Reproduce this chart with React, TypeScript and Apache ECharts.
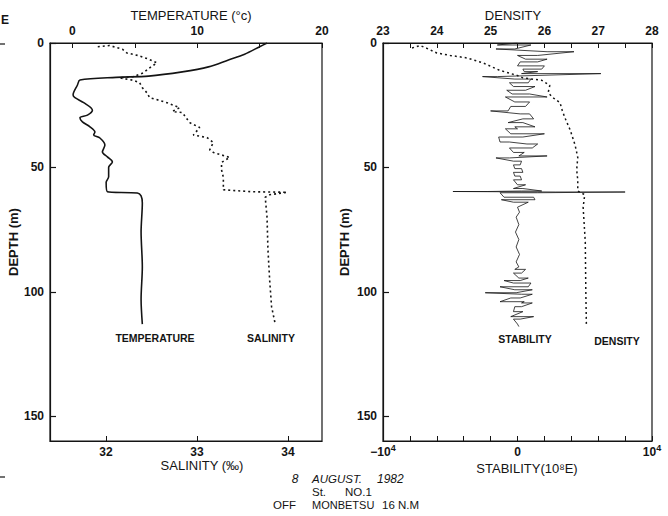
import React, { useEffect, useRef } from "react";
import * as echarts from "echarts";

// ---- Left panel: temperature (°C) and salinity (‰) vs depth (m)
const tempDepth = [0, 1.5, 4.5, 6.8, 9.6, 11.6, 13.3, 13.8, 14.9, 16.9, 20.9, 22, 24, 27, 29, 30, 31.7, 33.7, 35.8, 37, 38.2, 41, 43.8, 45.8, 47.8, 50, 53.8, 56, 59.8, 60.3, 61.5, 64.3, 76, 90, 103, 113];
const tempC = [15.6, 15.0, 13.8, 12.5, 10.9, 8.8, 6.1, 3.5, 0.6, 0.4, 0.05, 0.2, 0.9, 1.6, 1.2, 0.6, 0.8, 1.4, 1.8, 1.7, 2.2, 2.6, 2.4, 2.8, 3.2, 2.9, 2.9, 2.7, 2.8, 5.2, 5.5, 5.6, 5.5, 5.6, 5.5, 5.6];

const salDepth = [1.5, 1, 2.5, 4, 5, 6.5, 8, 10, 12, 13.5, 14, 15, 16, 18, 20, 22, 23, 24, 26, 27.5, 28, 30, 32, 34, 37, 38, 40, 43, 44, 46, 48, 51, 54, 59, 59.8, 60, 61, 62, 70, 83, 96, 106, 113];
const salinity = [31.91, 32.04, 32.18, 32.23, 32.35, 32.47, 32.56, 32.48, 32.41, 32.3, 32.15, 32.3, 32.37, 32.4, 32.45, 32.48, 32.58, 32.67, 32.81, 32.73, 32.84, 32.88, 32.92, 33.03, 32.96, 33.11, 33.18, 33.14, 33.18, 33.36, 33.27, 33.27, 33.29, 33.29, 33.6, 33.99, 33.8, 33.75, 33.77, 33.78, 33.8, 33.82, 33.86];

// ---- Right panel: density (sigma-t) and stability (10^-8 E) vs depth (m)
const densDepth = [2, 1, 2, 4, 5, 6, 8, 11, 13, 14, 15, 17, 20, 22, 24, 27, 30, 35, 41, 46, 51, 55, 59.5, 61, 66, 80, 100, 113];
const density = [23.54, 23.69, 23.8, 24.0, 24.25, 24.56, 24.86, 25.17, 25.49, 25.6, 25.95, 26.1, 26.07, 26.16, 26.29, 26.33, 26.38, 26.48, 26.57, 26.62, 26.6, 26.62, 26.62, 26.75, 26.72, 26.76, 26.77, 26.78];

// stability trace: consecutive points at one depth are the horizontal dashes of the record
const stabDepth = [0, 0.8, 0.8, 2.4, 2.4, 3.5, 3.5, 5, 5, 6.5, 6.5, 7.6, 7.6, 9.2, 9.2, 10.5, 10.5, 11.5, 11.5, 12.3, 12.3, 13.5, 13.5, 14.5, 14.5, 16, 16, 17.5, 17.5, 19, 19, 20.5, 20.5, 21.7, 21.7, 23.7, 23.7, 25.5, 25.5, 27.3, 27.3, 28.5, 28.5, 30.5, 30.5, 32, 32, 33.7, 33.7, 34.5, 34.5, 36.5, 36.5, 37.8, 37.8, 39.8, 39.8, 40.6, 40.6, 42.2, 42.2, 44, 44, 45.4, 45.4, 46.2, 46.2, 47.5, 47.5, 49, 49, 50.5, 50.5, 52, 52, 53.5, 53.5, 55, 55, 57, 57, 58.5, 58.5, 59.5, 59.5, 59.7, 59.7, 59.9, 59.9, 60.2, 60.2, 62, 62, 63, 63, 64, 64, 66, 68, 70, 73, 76, 79, 82, 85, 88, 90, 91, 91, 92.5, 92.5, 94.5, 94.5, 95.5, 95.5, 96.5, 96.5, 98, 98, 99.2, 99.2, 100.4, 100.4, 101, 101, 102.5, 102.5, 104, 104, 104.5, 104.5, 106, 106, 108, 108, 110, 110, 111, 111, 113, 114];
const stability = [0, -1500, 1000, -200, -1600, 2200, 4200, 1500, 0, 600, 2200, 1500, 200, 0, 2000, 1800, 400, 500, 1500, 300, 6200, -1500, -2600, -200, 1000, 800, -600, -300, 1300, 600, -800, -400, 900, 2200, -900, -200, 900, 600, -500, -700, -2000, 200, 900, 1200, 400, -700, 400, 1300, -200, 0, -900, -500, 2000, 400, -1400, -1300, -600, 700, 1500, 1100, -600, -300, 500, 100, 2200, -600, -1600, -300, 300, 200, -300, -200, 300, 400, -300, -200, 200, 300, -300, 0, 600, -300, 400, 1800, 300, -2200, -4800, 2800, 8000, 1500, -1300, -1000, 1200, 1300, -1200, -300, 800, 0, 150, -100, 100, -150, 100, -100, 150, -100, 100, -200, 600, 300, -300, 100, 800, 200, -1000, -300, 1000, 800, -1300, -200, 1100, -100, -2400, 300, 1100, 200, -500, -1300, 500, 300, 1100, 300, -200, -300, 400, -500, 1200, 200, -300, 0, 100];

// ---- Axis ticks and labels
const tempTicks = [0, 5, 10, 15, 20];
const tempLabels = [0, 10, 20];
const salTicks = [32, 33, 34];
const densTicks = [23, 23.5, 24, 24.5, 25, 25.5, 26, 26.5, 27, 27.5, 28];
const densLabels = [23, 24, 25, 26, 27, 28];
const stabLabels = [-10000, 0, 10000];
const depthTicks = [0, 50, 100, 150];

const zip = (xs: number[], ys: number[]) => xs.map((x, i) => [x, ys[i]]);

const FONT = "Liberation Sans";
const INK = "#141414";

export default function App() {
  const ref = useRef<HTMLDivElement>(null);
  useEffect(() => {
    if (!ref.current) return;
    const chart = echarts.init(ref.current, null, { renderer: "svg" });
    const tickLabel = { color: INK, fontFamily: FONT, fontSize: 12, fontWeight: "bold" as const, lineHeight: 12 };
    const axisLine = { show: true, onZero: false, lineStyle: { color: INK, width: 1.2 } };
    const depthAxis = (gridIndex: number, gap: number) => ({
      type: "value" as const,
      gridIndex,
      inverse: true,
      min: 0,
      max: 160,
      interval: 50,
      axisLine,
      axisTick: { show: true, inside: true, length: 6, lineStyle: { color: INK, width: 1.2 }, customValues: depthTicks },
      axisLabel: { ...tickLabel, margin: 6, customValues: depthTicks },
      splitLine: { show: false },
      name: "DEPTH (m)",
      nameLocation: "middle" as const,
      nameRotate: 90,
      nameGap: gap,
      nameTextStyle: { color: INK, fontFamily: FONT, fontSize: 13, fontWeight: "bold" as const },
    });
    const text = (x: number, y: number, t: string, size = 13, extra: any = {}) => ({
      type: "text",
      x,
      y,
      style: { text: t, fill: INK, font: `${extra.italic ? "italic " : ""}${extra.bold ? "bold " : ""}${size}px "${FONT}"`, textAlign: extra.align || "center", textVerticalAlign: "middle" },
    });
    chart.setOption({
      animation: false,
      backgroundColor: "#ffffff",
      grid: [
        { left: 50, top: 43, width: 272, height: 398, show: true, borderColor: INK, borderWidth: 1.2, backgroundColor: "transparent" },
        { left: 383, top: 43, width: 269, height: 398, show: true, borderColor: INK, borderWidth: 1.2, backgroundColor: "transparent" },
      ],
      xAxis: [
        {
          type: "value", gridIndex: 0, position: "top", min: -1.8, max: 20,
          axisLine,
          axisTick: { show: true, inside: true, length: 5, lineStyle: { color: INK }, customValues: tempTicks },
          axisLabel: { ...tickLabel, margin: 6, customValues: tempLabels },
          splitLine: { show: false },
        },
        {
          type: "value", gridIndex: 0, position: "bottom", min: 31.385, max: 34.374,
          axisLine,
          axisTick: { show: true, inside: true, length: 5, lineStyle: { color: INK }, customValues: salTicks },
          axisLabel: { ...tickLabel, margin: 5, customValues: salTicks },
          splitLine: { show: false },
        },
        {
          type: "value", gridIndex: 1, position: "top", min: 23, max: 28,
          axisLine,
          axisTick: { show: true, inside: true, length: 5, lineStyle: { color: INK }, customValues: densTicks },
          axisLabel: { ...tickLabel, margin: 6, customValues: densLabels },
          splitLine: { show: false },
        },
        {
          type: "value", gridIndex: 1, position: "bottom", min: -10000, max: 10000, interval: 2000,
          axisLine,
          axisTick: { show: true, inside: true, length: 5, lineStyle: { color: INK } },
          axisLabel: {
            ...tickLabel, margin: 5, customValues: stabLabels,
            formatter: (v: number) => (v === 0 ? "0" : v < 0 ? "−10{s|4}" : "10{s|4}"),
            rich: { s: { fontSize: 9, fontWeight: "bold", fontFamily: FONT, color: INK, padding: [0, 0, 8, 0] } },
          },
          splitLine: { show: false },
        },
      ],
      yAxis: [depthAxis(0, 28), depthAxis(1, 32)],
      series: [
        {
          name: "TEMPERATURE", type: "line", xAxisIndex: 0, yAxisIndex: 0,
          data: zip(tempC, tempDepth), showSymbol: false, symbol: "none", smooth: 0.3,
          lineStyle: { color: INK, width: 1.6 },
        },
        {
          name: "SALINITY", type: "line", xAxisIndex: 1, yAxisIndex: 0,
          data: zip(salinity, salDepth), showSymbol: false, symbol: "none",
          lineStyle: { color: INK, width: 1.6, type: [2, 3] },
        },
        {
          name: "DENSITY", type: "line", xAxisIndex: 2, yAxisIndex: 1,
          data: zip(density, densDepth), showSymbol: false, symbol: "none",
          lineStyle: { color: INK, width: 1.5, type: [2, 3] },
        },
        {
          name: "STABILITY", type: "line", xAxisIndex: 3, yAxisIndex: 1,
          data: zip(stability, stabDepth), showSymbol: false, symbol: "none",
          lineStyle: { color: INK, width: 0.8 },
        },
      ],
      graphic: [
        text(191, 15, "TEMPERATURE (°c)", 13),
        text(513, 15, "DENSITY", 13),
        text(202, 465, "SALINITY (‰)", 13),
        text(527, 468, "STABILITY(10⁸E)", 13),
        text(155, 338, "TEMPERATURE", 10.5, { bold: true }),
        text(271, 338, "SALINITY", 10.5, { bold: true }),
        text(525, 339, "STABILITY", 10.5, { bold: true }),
        text(617, 341, "DENSITY", 10.5, { bold: true }),
        text(295, 479, "8", 12, { italic: true }),
        text(312, 479, "AUGUST.", 11.5, { italic: true, align: "left" }),
        text(377, 479, "1982", 12, { italic: true, align: "left" }),
        text(312, 492, "St.", 11.5, { align: "left" }),
        text(345, 492, "NO.1", 11.5, { align: "left" }),
        text(273, 505, "OFF", 11.5, { align: "left" }),
        text(312, 505, "MONBETSU", 11, { align: "left" }),
        text(382, 505, "16 N.M", 11.5, { align: "left" }),
        text(1, 20, "E", 12, { bold: true, align: "left" }),
        { type: "line", shape: { x1: 0, y1: 44, x2: 5, y2: 44 }, style: { stroke: INK, lineWidth: 1.2 } },
        { type: "line", shape: { x1: 0, y1: 477, x2: 5, y2: 477 }, style: { stroke: INK, lineWidth: 1.2 } },
      ],
    });
    return () => chart.dispose();
  }, []);
  return <div ref={ref} style={{ position: "absolute", left: 0, top: 0, width: 668, height: 516 }} />;
}
